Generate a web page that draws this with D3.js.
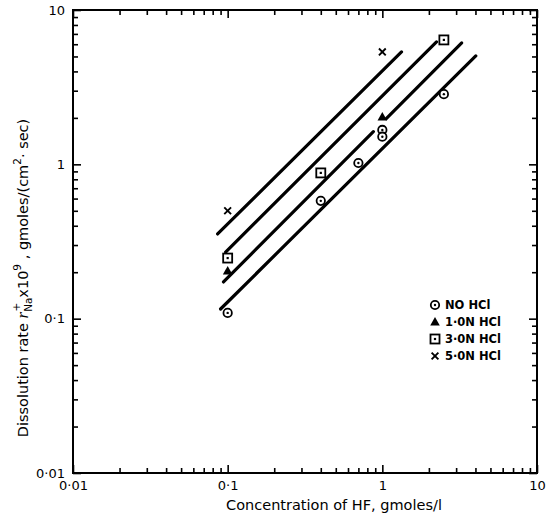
<!DOCTYPE html>
<html><head><meta charset="utf-8">
<script src="https://cdn.jsdelivr.net/npm/d3@7"></script>
<style>body{margin:0;background:#fff}svg{display:block}text{font-family:"DejaVu Sans",sans-serif;fill:#000}</style>
</head><body><svg id="c" width="555" height="526"></svg>
<script>
// ---- data ----
const seriesNames = ["NO HCl", "1\u00b70N HCl", "3\u00b70N HCl", "5\u00b70N HCl"];
const seriesShapes = ["circle", "triangle", "square", "cross"];
const noX = [0.1, 0.4, 0.7, 1.0, 1.0, 2.5];
const noY = [0.109, 0.58, 1.02, 1.67, 1.51, 2.85];
const n1X = [0.1, 1.0];
const n1Y = [0.204, 2.03];
const n3X = [0.1, 0.4, 2.5];
const n3Y = [0.247, 0.88, 6.4];
const n5X = [0.1, 1.0];
const n5Y = [0.5, 5.35];
// fitted lines (segments, data units)
const lineNO = [[[0.090, 0.1155], [4.02, 5.04]]];
const line1N = [[[0.094, 0.173], [0.875, 1.63]], [[1.06, 1.98], [3.26, 6.12]]];
const line3N = [[[0.097, 0.27], [2.24, 6.21]]];
const line5N = [[[0.0861, 0.354], [1.33, 5.35]]];
const xTickLabels = ["0\u00b701", "0\u00b71", "1", "10"];
const yTickLabels = ["0\u00b701", "0\u00b71", "1", "10"];
const decades = [0.01, 0.1, 1, 10];

// ---- layout ----
const svg = d3.select("#c");
const L = 73, R = 537, T = 10, B = 473;
const x = d3.scaleLog().domain([0.01, 10]).range([L, R]);
const y = d3.scaleLog().domain([0.01, 10]).range([B, T]);

const minor = [];
decades.slice(0, 3).forEach(d => { for (let k = 2; k <= 9; k++) minor.push(d * k); });

function styleAxis(g) {
  g.select(".domain").remove();
  g.selectAll(".tick line").attr("stroke", "#000").attr("stroke-width", 1.6);
}
// major ticks with labels
svg.append("g").attr("transform", `translate(0,${B})`)
  .call(d3.axisBottom(x).tickValues(decades).tickSize(-8).tickPadding(8)
    .tickFormat((d, i) => xTickLabels[i]))
  .call(styleAxis).call(g => g.selectAll("text").attr("font-size", 13).attr("font-family", "DejaVu Sans").attr("fill", "#000"));
svg.append("g").attr("transform", `translate(0,${B})`)
  .call(d3.axisBottom(x).tickValues(minor).tickSize(-5).tickFormat(""))
  .call(styleAxis);
svg.append("g").attr("transform", `translate(0,${T})`)
  .call(d3.axisTop(x).tickValues(decades).tickSize(-8).tickFormat(""))
  .call(styleAxis);
svg.append("g").attr("transform", `translate(0,${T})`)
  .call(d3.axisTop(x).tickValues(minor).tickSize(-5).tickFormat(""))
  .call(styleAxis);
svg.append("g").attr("transform", `translate(${L},0)`)
  .call(d3.axisLeft(y).tickValues(decades).tickSize(-8).tickPadding(8)
    .tickFormat((d, i) => yTickLabels[i]))
  .call(styleAxis).call(g => g.selectAll("text").attr("font-size", 13).attr("font-family", "DejaVu Sans").attr("fill", "#000"));
svg.append("g").attr("transform", `translate(${L},0)`)
  .call(d3.axisLeft(y).tickValues(minor).tickSize(-5).tickFormat(""))
  .call(styleAxis);
svg.append("g").attr("transform", `translate(${R},0)`)
  .call(d3.axisRight(y).tickValues(decades).tickSize(-8).tickFormat(""))
  .call(styleAxis);
svg.append("g").attr("transform", `translate(${R},0)`)
  .call(d3.axisRight(y).tickValues(minor).tickSize(-5).tickFormat(""))
  .call(styleAxis);

svg.append("rect").attr("x", L).attr("y", T).attr("width", R - L).attr("height", B - T)
  .attr("fill", "none").attr("stroke", "#000").attr("stroke-width", 2);

// fitted lines
const lg = d3.line().x(d => x(d[0])).y(d => y(d[1]));
[lineNO, line1N, line3N, line5N].forEach(segs => segs.forEach(s =>
  svg.append("path").attr("d", lg(s)).attr("fill", "none").attr("stroke", "#000")
    .attr("stroke-width", 3.2).attr("stroke-linecap", "round")));

// markers
function marker(g, shape, cx, cy) {
  if (shape === "circle") {
    g.append("circle").attr("cx", cx).attr("cy", cy).attr("r", 4.2).attr("fill", "#fff").attr("stroke", "#000").attr("stroke-width", 1.8);
    g.append("circle").attr("cx", cx).attr("cy", cy).attr("r", 1.2).attr("fill", "#000");
  } else if (shape === "square") {
    g.append("rect").attr("x", cx - 4.5).attr("y", cy - 4.5).attr("width", 9).attr("height", 9).attr("fill", "#fff").attr("stroke", "#000").attr("stroke-width", 1.8);
    g.append("rect").attr("x", cx - 1.1).attr("y", cy - 1.1).attr("width", 2.2).attr("height", 2.2).attr("fill", "#000");
  } else if (shape === "triangle") {
    g.append("path").attr("d", `M${cx},${cy - 5}L${cx + 4.8},${cy + 3.5}L${cx - 4.8},${cy + 3.5}Z`).attr("fill", "#000");
  } else {
    g.append("path").attr("d", `M${cx - 3.4},${cy - 3.4}L${cx + 3.4},${cy + 3.4}M${cx + 3.4},${cy - 3.4}L${cx - 3.4},${cy + 3.4}`).attr("stroke", "#000").attr("stroke-width", 1.9);
  }
}
const pts = svg.append("g");
[[noX, noY], [n1X, n1Y], [n3X, n3Y], [n5X, n5Y]].forEach((s, i) =>
  s[0].forEach((v, j) => marker(pts, seriesShapes[i], x(v), y(s[1][j]))));

// legend
const leg = svg.append("g");
seriesNames.forEach((n, i) => {
  const yy = 305 + i * 17;
  marker(leg, seriesShapes[i], 435, yy);
  leg.append("text").attr("x", 445).attr("y", yy).attr("dy", "0.36em")
    .attr("font-size", 11.5).attr("font-weight", "bold").text(n);
});

// axis titles
svg.append("text").attr("x", 334).attr("y", 510).attr("text-anchor", "middle")
  .attr("font-size", 14.5).text("Concentration of HF, gmoles/l");

const yl = svg.append("text").attr("transform", "translate(28,278) rotate(-90)")
  .attr("text-anchor", "middle").attr("font-size", 14.5);
yl.append("tspan").text("Dissolution rate ");
yl.append("tspan").attr("font-style", "italic").attr("font-family", "Liberation Serif").attr("font-size", 17).text("r");
yl.append("tspan").attr("font-size", 10.5).attr("dy", 4).text("Na");
yl.append("tspan").attr("font-size", 10.5).attr("dx", -14).attr("dy", -12).text("+");
yl.append("tspan").attr("dx", 5).attr("dy", 8).text("x10");
yl.append("tspan").attr("font-size", 10.5).attr("dy", -7).text("9");
yl.append("tspan").attr("dy", 7).text(" ,  gmoles/(cm");
yl.append("tspan").attr("font-size", 10.5).attr("dy", -7).text("2");
yl.append("tspan").attr("dy", 7).text("\u00b7 sec)");
</script></body></html>
